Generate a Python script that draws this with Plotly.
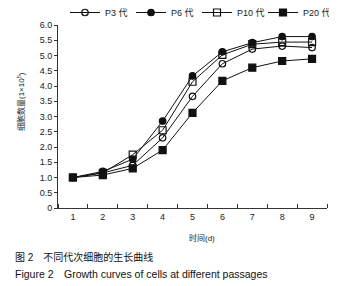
import plotly.graph_objects as go

days = [1, 2, 3, 4, 5, 6, 7, 8, 9]
p3 = [1.0, 1.15, 1.4, 2.3, 3.66, 4.73, 5.21, 5.31, 5.26]
p6 = [1.0, 1.2, 1.6, 2.85, 4.33, 5.12, 5.42, 5.62, 5.62]
p10 = [1.0, 1.15, 1.75, 2.55, 4.14, 5.02, 5.37, 5.44, 5.44]
p20 = [1.0, 1.08, 1.3, 1.9, 3.12, 4.17, 4.6, 4.82, 4.89]
names = ["P3 代", "P6 代", "P10 代", "P20 代"]
series = [p3, p6, p10, p20]
symbols = ["circle-open", "circle", "square-open", "square"]
sizes = [6.5, 6.5, 7, 7]
yticks = [0, 0.5, 1.0, 1.5, 2.0, 2.5, 3.0, 3.5, 4.0, 4.5, 5.0, 5.5, 6.0]
ylabels = ["0", "0.5", "1.0", "1.5", "2.0", "2.5", "3.0", "3.5", "4.0", "4.5", "5.0", "5.5", "6.0"]

FONT = "Liberation Sans, Noto Sans CJK SC, sans-serif"

# page body adds an 8px offset; the figure is sized to fit the window
W, H = 352, 278
L, R, T, B = 50, 33, 17, 78
PW, PH = W - L - R, H - T - B


def px_x(x):
    return (x - 8 - L) / PW


def px_y(y):
    return (H - B - (y - 8)) / PH


fig = go.Figure()
for nm, ys, sym, sz in zip(names, series, symbols, sizes):
    fig.add_trace(go.Scatter(
        x=days, y=ys, name=nm, mode="lines+markers",
        line=dict(color="#111", width=1),
        marker=dict(symbol=sym, size=sz, color="#111",
                    line=dict(color="#111", width=1.2)),
    ))

fig.update_layout(
    width=W, height=H,
    margin=dict(l=L, r=R, t=T, b=B, autoexpand=False),
    paper_bgcolor="white", plot_bgcolor="white",
    font=dict(family=FONT, size=9, color="#222"),
    showlegend=True,
    legend=dict(orientation="h", x=px_x(65), xanchor="left", y=px_y(-2), yanchor="top",
                yref="paper", font=dict(size=9), entrywidth=21,
                itemwidth=30, tracegroupgap=0, bgcolor="rgba(0,0,0,0)"),
    xaxis=dict(range=[0.5, 9.5], tickvals=days, ticktext=[str(d) for d in days],
               ticks="", showgrid=False, zeroline=False,
               showline=True, linecolor="#333", linewidth=1,
               tickfont=dict(size=9),
               minor=dict(tick0=0.5, dtick=1, ticks="inside", ticklen=4,
                          tickcolor="#333", showgrid=False)),
    yaxis=dict(range=[0, 6], tickvals=yticks, ticktext=ylabels,
               ticks="outside", ticklen=3, tickcolor="#333",
               showgrid=False, zeroline=False,
               showline=True, linecolor="#333", linewidth=1,
               tickfont=dict(size=9)),
)

fig.add_annotation(text="时间(d)", xref="paper", yref="paper",
                   x=px_x(202), y=px_y(238), xanchor="center", yanchor="middle",
                   showarrow=False, font=dict(size=8, color="#222"))
fig.add_annotation(text="细胞数量(1×10<sup>5</sup>)", xref="paper", yref="paper",
                   x=px_x(21), y=px_y(102), xanchor="center", yanchor="middle",
                   textangle=-90, showarrow=False, font=dict(size=8, color="#222"))
fig.add_annotation(text="图 2　不同代次细胞的生长曲线", xref="paper", yref="paper",
                   x=px_x(13), y=px_y(257), xanchor="left", yanchor="middle",
                   showarrow=False, font=dict(size=10, color="#111"))
fig.add_annotation(text="Figure 2　Growth curves of cells at different passages",
                   xref="paper", yref="paper", x=px_x(13), y=px_y(274),
                   xanchor="left", yanchor="middle", showarrow=False,
                   font=dict(size=10.5, color="#111"))

fig.write_html("out.html")
